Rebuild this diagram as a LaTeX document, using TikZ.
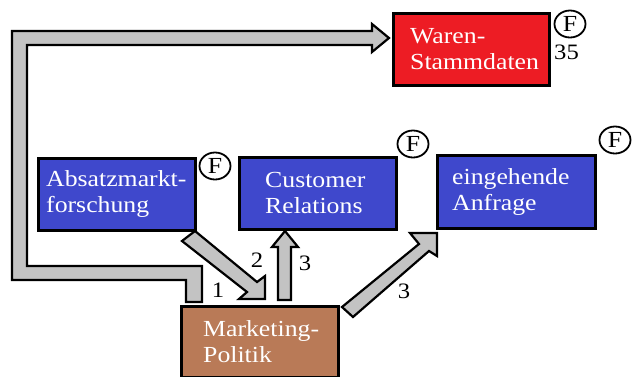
\documentclass[tikz,border=0pt]{standalone}
\usepackage{fontspec}
\setmainfont[FakeStretch=1.12]{Liberation Serif}
\usetikzlibrary{shapes.geometric}
\definecolor{boxblue}{RGB}{63,72,204}
\definecolor{boxred}{RGB}{237,28,36}
\definecolor{boxbrown}{RGB}{185,122,87}
\definecolor{arrgray}{RGB}{195,195,195}
\tikzset{
  box/.style={draw=black, line width=2.6pt, anchor=north west, inner sep=0pt},
  lbl/.style={text=white, anchor=west, align=left, inner sep=0pt, font=\fontsize{23}{26}\selectfont},
  blockarrow/.style={draw=black, fill=arrgray, line width=2.2pt, line join=miter},
  fmark/.style={draw=black, ellipse, line width=1.8pt, minimum width=31pt, minimum height=27pt, inner sep=0pt, font=\fontsize{23}{26}\selectfont},
  num/.style={font=\fontsize{22}{24}\selectfont, inner sep=0pt}
}
\begin{document}
\begin{tikzpicture}[x=1pt,y=-1pt]
\useasboundingbox (0,0) rectangle (633,376);
% boxes
\node[box, fill=boxred, minimum width=156pt, minimum height=72pt] (ws) at (392,12) {};
\node[box, fill=boxblue, minimum width=157pt, minimum height=72pt] (am) at (37,157) {};
\node[box, fill=boxblue, minimum width=157pt, minimum height=72pt] (cr) at (238,156) {};
\node[box, fill=boxblue, minimum width=158pt, minimum height=73pt] (ea) at (436,154) {};
\node[box, fill=boxbrown, minimum width=157pt, minimum height=71pt] (mp) at (180,305) {};
% box texts
\node[lbl] (wst) at ([xshift=18pt]ws.west) {Waren-\\Stammdaten};
\node[lbl] (amt) at ([xshift=9pt]am.west) {Absatzmarkt-\\forschung};
\node[lbl] (crt) at ([xshift=27pt]cr.west) {Customer\\Relations};
\node[lbl] (eat) at ([xshift=16pt]ea.west) {eingehende\\Anfrage};
\node[lbl] (mpt) at ([xshift=23pt]mp.west) {Marketing-\\Politik};
% F marks
\node[fmark] (f1) at (570,24) {F};
\node[fmark] (f2) at (215,166) {F};
\node[fmark] (f3) at (413,144) {F};
\node[fmark] (f4) at (615,140) {F};
\node[num, anchor=base west] (n35) at (554,59) {35};
% block arrows
\draw[blockarrow] (202,302) -- (202,266) -- (27,266) -- (27,45) -- (372,45) -- (372,52)
  -- (389,38) -- (372,24) -- (372,31) -- (12,31) -- (12,280) -- (186,280) -- (186,302) -- cycle;
\draw[blockarrow] (182,241) -- (195,231) -- (257,282) -- (265,276) -- (265,299) -- (239,299) -- (247,292) -- cycle;
\draw[blockarrow] (278,300) -- (278,247) -- (272,247) -- (285,231) -- (298,247) -- (291,247) -- (291,300) -- cycle;
\draw[blockarrow] (342,307) -- (419,244) -- (410,233) -- (437,233) -- (437,256) -- (429,251) -- (353,317) -- cycle;
% numbers
\node[num] (l1) at (218,290) {1};
\node[num] (l2) at (257,260) {2};
\node[num] (l3a) at (305,263) {3};
\node[num] (l3b) at (404,291) {3};
\end{tikzpicture}
\end{document}
